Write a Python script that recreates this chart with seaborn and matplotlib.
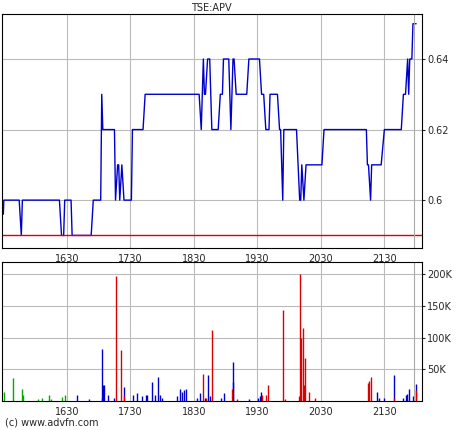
import pandas as pd
import matplotlib
matplotlib.use("Agg")
import matplotlib.pyplot as plt
import seaborn as sns
from matplotlib.ticker import FixedLocator, FuncFormatter

# price trace: minutes after 15:30, price
price_t = [0, 0.5, 15, 17, 18, 53, 55, 57, 58, 64, 65, 83, 85, 92, 93, 94, 105, 106, 108, 109,
           110, 112, 114, 121, 122, 132, 134, 185, 187, 189, 190, 191, 193, 195, 197, 203, 205,
           207, 208, 213, 215, 217, 218, 220, 230, 232, 242, 244, 246, 248, 251, 252, 259, 261,
           262, 264, 265, 277, 280, 281, 282, 284, 286, 301, 303, 343, 344, 345, 347, 348, 357,
           360, 376, 378, 379, 380, 382, 383, 384, 386, 387, 390]
price_v = [0.596, 0.60, 0.60, 0.59, 0.60, 0.60, 0.59, 0.59, 0.60, 0.60, 0.59, 0.59, 0.60, 0.60,
           0.63, 0.62, 0.62, 0.60, 0.61, 0.61, 0.60, 0.61, 0.60, 0.60, 0.62, 0.62, 0.63, 0.63,
           0.62, 0.64, 0.63, 0.63, 0.64, 0.64, 0.62, 0.62, 0.63, 0.63, 0.64, 0.64, 0.62, 0.64,
           0.64, 0.63, 0.63, 0.64, 0.64, 0.63, 0.63, 0.62, 0.62, 0.63, 0.63, 0.62, 0.62, 0.60,
           0.62, 0.62, 0.60, 0.60, 0.61, 0.60, 0.61, 0.61, 0.62, 0.62, 0.61, 0.61, 0.60, 0.61,
           0.61, 0.62, 0.62, 0.63, 0.63, 0.63, 0.64, 0.63, 0.64, 0.64, 0.65, 0.65]
prev_close = 0.59

# volume bars: minutes after 15:30, volume (K)
green_t = [0.5, 9.3, 18.1, 18.8, 32.9, 36.1, 43.3, 44.6, 55.9, 58.4]
green_v = [15, 37, 20, 10, 3, 5, 10, 4, 7, 10]
blue_t = [69.2, 81.1, 92.8, 93.4, 94.4, 95.3, 99.1, 104.1, 114.2, 122.7, 126.5, 130.6, 134.4,
          135.3, 140.7, 142.9, 146.3, 147.9, 150.1, 163.7, 167.1, 168.7, 170.9, 172.2, 183.2,
          185.7, 190.7, 193.6, 195.2, 205.2, 208.7, 216.6, 217.2, 232.3, 240.8, 242.1, 243.3,
          353, 355.2, 359.6, 369.3, 377.9, 380.4, 381.6, 382.9, 387.3, 389.8]
blue_v = [10, 4, 5, 83, 25, 25, 10, 5, 23, 10, 13, 8, 10, 10, 30, 10, 38, 10, 5, 8, 20, 15, 18,
          20, 5, 13, 5, 42, 8, 5, 13, 30, 62, 3, 5, 8, 15, 15, 5, 5, 42, 5, 10, 12, 20, 8, 27]
red_t = [106.6, 111.4, 113.9, 188.2, 191.4, 197.4, 216.3, 220.7, 244.6, 248.1, 250.3, 264.5,
         266, 279.3, 280.5, 281.5, 283, 284.3, 285.2, 289, 294.7, 344.8, 345.7, 347.3, 369.3, 389.8]
red_v = [197, 80, 8, 43, 5, 113, 20, 3, 10, 10, 25, 143, 3, 8, 200, 100, 115, 25, 68, 15, 5,
         28, 32, 38, 5, 18]

tick_pos = [60, 120, 180, 240, 300, 360]
tick_lab = ["1630", "1730", "1830", "1930", "2030", "2130"]

sns.set_style("white")
plt.rcParams["font.family"] = ["DejaVu Sans"]
fig = plt.figure(figsize=(4.6, 4.3), dpi=100)
ax1 = fig.add_axes([0.004, 0.423, 0.913, 0.544])
ax2 = fig.add_axes([0.004, 0.067, 0.913, 0.323])

price = pd.DataFrame({"t": price_t, "p": price_v})
sns.lineplot(data=price, x="t", y="p", ax=ax1, color="#0000cc", linewidth=1, estimator=None)
ax1.axhline(prev_close, color="#dd0000", linewidth=1)
ax1.set_ylim(0.5864, 0.6527)
ax1.set_yticks([0.60, 0.62, 0.64])
ax1.yaxis.set_major_formatter(FuncFormatter(lambda v, _: f"{v:g}"))
ax1.set_title("TSE:APV", fontsize=7, pad=2)

for t, v, c in [(green_t, green_v, "#00aa00"), (blue_t, blue_v, "#0000cc"), (red_t, red_v, "#dd0000")]:
    ax2.vlines(t, 0, [x * 1000 for x in v], color=c, linewidth=1)
ax2.set_ylim(0, 219000)
ax2.set_yticks([50000, 100000, 150000, 200000])
ax2.yaxis.set_major_formatter(FuncFormatter(lambda v, _: f"{int(v / 1000)}K"))

for ax in (ax1, ax2):
    ax.set_xlim(-1.4, 395.4)
    ax.xaxis.set_major_locator(FixedLocator(tick_pos))
    ax.set_xticklabels(tick_lab)
    ax.axvline(388, color="#aaaaaa", linewidth=0.8)
    ax.grid(True, color="#bbbbbb", linewidth=0.8)
    ax.yaxis.tick_right()
    ax.tick_params(labelsize=7, length=2, pad=2)
    ax.set_xlabel("")
    ax.set_ylabel("")
    for s in ax.spines.values():
        s.set_color("black")
        s.set_linewidth(0.8)

fig.text(0.01, 0.01, "(c) www.advfn.com", fontsize=7)
fig.savefig("out.png", dpi=100)
